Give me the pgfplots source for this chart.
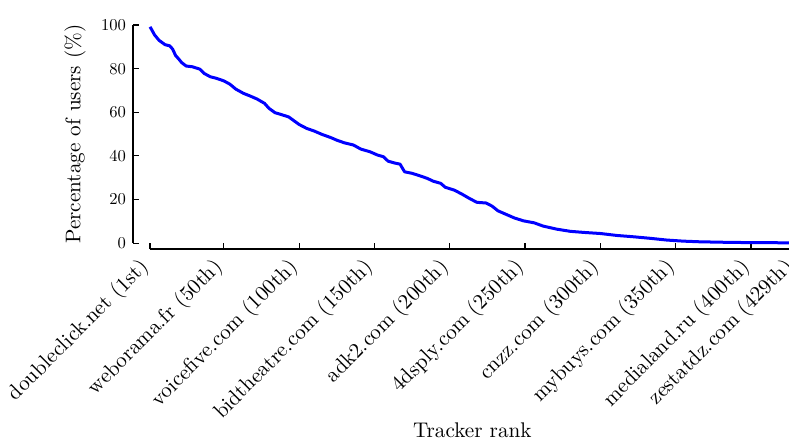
\documentclass[border=0pt]{standalone}
\usepackage{fix-cm}
\usepackage{pgfplots}
\pgfplotsset{compat=1.18}
\font\ytickfont=cmr10 at 8.3pt
\newcommand{\labfont}{\fontsize{10.6}{12.7}\selectfont}
\pgfplotstableread{
rank pct
1 99.2
2 98.0
4 95.5
7 93.0
11 91.0
14 90.5
16 89.0
18 86.0
20 84.5
22 82.8
25 81.2
29 80.9
34 79.8
37 77.8
41 76.3
45 75.6
50 74.4
54 72.9
58 70.6
63 68.7
67 67.6
72 66.1
77 64.1
80 61.8
84 59.8
87 59.2
93 57.9
96 56.4
100 54.4
105 52.6
110 51.4
115 49.9
121 48.4
125 47.2
130 46.0
136 45.0
141 43.1
147 41.9
152 40.4
156 39.6
159 37.6
163 36.8
167 36.2
170 32.7
175 32.0
180 30.9
185 29.7
189 28.4
194 27.4
197 25.6
203 24.3
208 22.5
213 20.5
218 18.7
224 18.4
228 17.0
232 14.8
237 13.3
243 11.5
249 10.2
256 9.3
262 7.8
271 6.4
280 5.4
289 4.9
300 4.4
311 3.5
322 2.9
333 2.2
344 1.4
355 0.9
366 0.6
377 0.45
388 0.3
399 0.25
410 0.2
420 0.15
429 0.1
}\trackers
\begin{document}
\begin{tikzpicture}
\begin{axis}[
  name=ax,
  scale only axis,
  width=322.3pt, height=109pt,
  xmin=1, xmax=429, ymin=0, ymax=100,
  clip=false,
  axis lines=left,
  axis line style={-, line width=0.8pt, black},
  x axis line style={yshift=-3pt},
  y axis line style={xshift=-8.5pt},
  tick align=inside,
  major tick length=3pt,
  every tick/.style={black, line width=0.6pt},
  xtick style={yshift=-3pt},
  ytick style={xshift=-8.5pt},
  minor tick num=0,
  ytick={0,20,40,60,80,100},
  yticklabel style={xshift=-8.5pt, font=\ytickfont, /pgf/number format/assume math mode=true},
  xtick={1,50,100,150,200,250,300,350,400,429},
  xticklabels={doubleclick.net (1st),weborama.fr (50th),voicefive.com (100th),bidtheatre.com (150th),adk2.com (200th),4dsply.com (250th),cnzz.com (300th),mybuys.com (350th),medialand.ru (400th),zestatdz.com (429th)},
  xticklabel style={xshift=-6pt, yshift=-1.8pt, rotate=45, anchor=north east, font=\labfont},
  ylabel={Percentage of users (\%)},
  xlabel={Tracker rank},
  ylabel style={at={(axis description cs:-0.1163,0.5)}, anchor=center, font=\labfont},
  xlabel style={at={(axis description cs:0.5,-0.86)}, anchor=center, font=\labfont},
]
\addplot[blue, line width=1.5pt, line join=round, no markers] table[x=rank, y=pct] {\trackers};
\coordinate (bbsw) at (axis cs:-98.6,-90.8);
\coordinate (bbne) at (axis cs:425.2,111.5);
\end{axis}
\pgfresetboundingbox
\useasboundingbox (bbsw) rectangle (bbne);
\end{tikzpicture}
\end{document}
